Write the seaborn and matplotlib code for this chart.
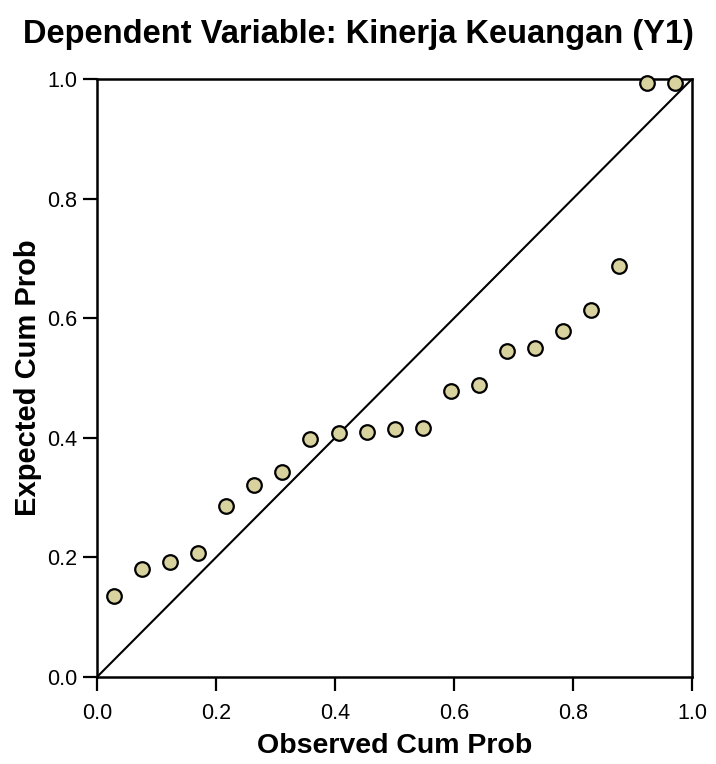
import pandas as pd
import seaborn as sns
import matplotlib.pyplot as plt

# Normal P-P plot of regression standardized residual
observed = [0.029, 0.076, 0.123, 0.170, 0.217, 0.264, 0.311, 0.358, 0.406, 0.453, 0.501,
            0.548, 0.595, 0.642, 0.689, 0.736, 0.783, 0.831, 0.878, 0.925, 0.972]
expected = [0.136, 0.181, 0.192, 0.207, 0.286, 0.321, 0.342, 0.398, 0.408, 0.410, 0.415,
            0.417, 0.479, 0.489, 0.545, 0.550, 0.579, 0.614, 0.687, 0.994, 0.994]

df = pd.DataFrame({"Observed": observed, "Expected": expected})

sns.set_style("white")
plt.rcParams["font.family"] = ["Liberation Sans", "DejaVu Sans"]
plt.rcParams["text.color"] = "black"
plt.rcParams["axes.labelcolor"] = "black"
plt.rcParams["xtick.color"] = "black"
plt.rcParams["ytick.color"] = "black"

fig = plt.figure(figsize=(7.16, 7.64), dpi=100)
ax = fig.add_axes([0.1355, 0.1139, 0.831, 0.7827])

ax.plot([0, 1], [0, 1], color="black", linewidth=1.5, zorder=1)
sns.scatterplot(data=df, x="Observed", y="Expected", ax=ax, s=110,
                color="#D8D29E", edgecolor="black", linewidth=1.6, zorder=3, clip_on=False)

ax.set_xlim(0, 1)
ax.set_ylim(0, 1)
ax.set_xticks([0, 0.2, 0.4, 0.6, 0.8, 1.0])
ax.set_yticks([0, 0.2, 0.4, 0.6, 0.8, 1.0])
ax.set_xticklabels(["0.0", "0.2", "0.4", "0.6", "0.8", "1.0"])
ax.set_yticklabels(["0.0", "0.2", "0.4", "0.6", "0.8", "1.0"])
ax.tick_params(axis="both", direction="out", length=10, width=1.6, labelsize=15.5,
               bottom=True, left=True)
ax.tick_params(axis="x", pad=9)
ax.tick_params(axis="y", pad=4)
for sp in ax.spines.values():
    sp.set_color("black")
    sp.set_linewidth(1.8)

ax.set_xlabel("Observed Cum Prob", fontsize=20.5, fontweight="bold", labelpad=6)
ax.set_ylabel("Expected Cum Prob", fontsize=21, fontweight="bold", labelpad=4)
fig.suptitle("Dependent Variable: Kinerja Keuangan (Y1)", fontsize=23.5, fontweight="bold",
             x=0.5, y=0.975)

fig.savefig("out.png", dpi=100)
